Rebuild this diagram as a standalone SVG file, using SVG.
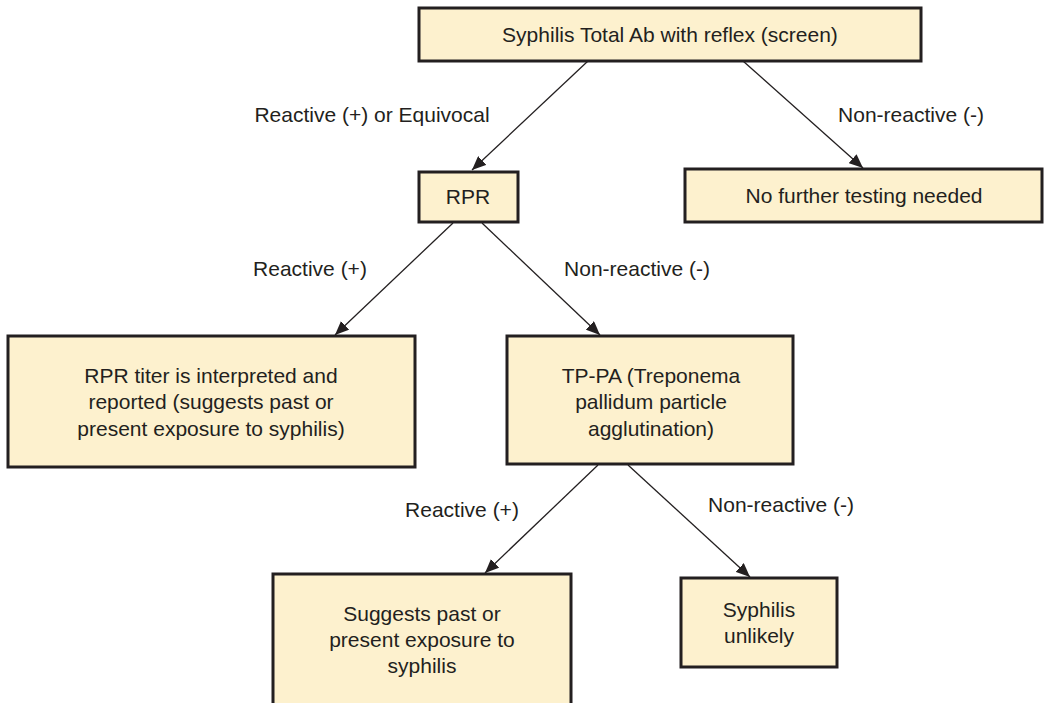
<svg xmlns="http://www.w3.org/2000/svg" width="1045" height="703" viewBox="0 0 1045 703">
<style>
.box{fill:#FDF1CE;stroke:#231F20;stroke-width:3}
.t{font-family:"Liberation Sans",Arial,sans-serif;font-size:21px;fill:#231F20;text-anchor:middle}
.c{stroke:#231F20;stroke-width:1.3;fill:none;marker-end:url(#ah)}
</style>
<defs>
<marker id="ah" markerUnits="userSpaceOnUse" markerWidth="14" markerHeight="12" refX="14" refY="6" orient="auto">
<path d="M0,0 L14,6 L0,12 z" fill="#231F20"/>
</marker>
</defs>
<rect width="1045" height="703" fill="#fff"/>
<g id="connectors">
<line class="c" x1="588" y1="61" x2="472" y2="170"/>
<line class="c" x1="743" y1="61" x2="863" y2="168"/>
<line class="c" x1="453" y1="223" x2="335" y2="335"/>
<line class="c" x1="482" y1="223" x2="600" y2="335"/>
<line class="c" x1="598" y1="465" x2="485" y2="573"/>
<line class="c" x1="628" y1="465" x2="750" y2="577"/>
<text class="t" x="372" y="122">Reactive (+) or Equivocal</text>
<text class="t" x="911" y="122">Non-reactive (-)</text>
<text class="t" x="310" y="276">Reactive (+)</text>
<text class="t" x="637" y="276">Non-reactive (-)</text>
<text class="t" x="462" y="517">Reactive (+)</text>
<text class="t" x="781" y="512">Non-reactive (-)</text>
</g>
<g id="n-screen">
<rect class="box" x="419" y="8" width="502" height="53"/>
<text class="t" x="670" y="42">Syphilis Total Ab with reflex (screen)</text>
</g>
<g id="n-rpr">
<rect class="box" x="419" y="172" width="99" height="50"/>
<text class="t" x="468" y="204">RPR</text>
</g>
<g id="n-nofurther">
<rect class="box" x="685" y="169" width="357" height="53"/>
<text class="t" x="864" y="203">No further testing needed</text>
</g>
<g id="n-titer">
<rect class="box" x="8" y="336" width="407" height="131"/>
<text class="t" x="211" y="383">RPR titer is interpreted and</text>
<text class="t" x="211" y="409">reported (suggests past or</text>
<text class="t" x="211" y="436">present exposure to syphilis)</text>
</g>
<g id="n-tppa">
<rect class="box" x="507" y="336" width="286" height="128"/>
<text class="t" x="651" y="383">TP-PA (Treponema</text>
<text class="t" x="651" y="409">pallidum particle</text>
<text class="t" x="651" y="436">agglutination)</text>
</g>
<g id="n-suggests">
<rect class="box" x="273" y="574" width="298" height="140"/>
<text class="t" x="422" y="621">Suggests past or</text>
<text class="t" x="422" y="647">present exposure to</text>
<text class="t" x="422" y="673">syphilis</text>
</g>
<g id="n-unlikely">
<rect class="box" x="681" y="578" width="156" height="89"/>
<text class="t" x="759" y="617">Syphilis</text>
<text class="t" x="759" y="643">unlikely</text>
</g>
</svg>
